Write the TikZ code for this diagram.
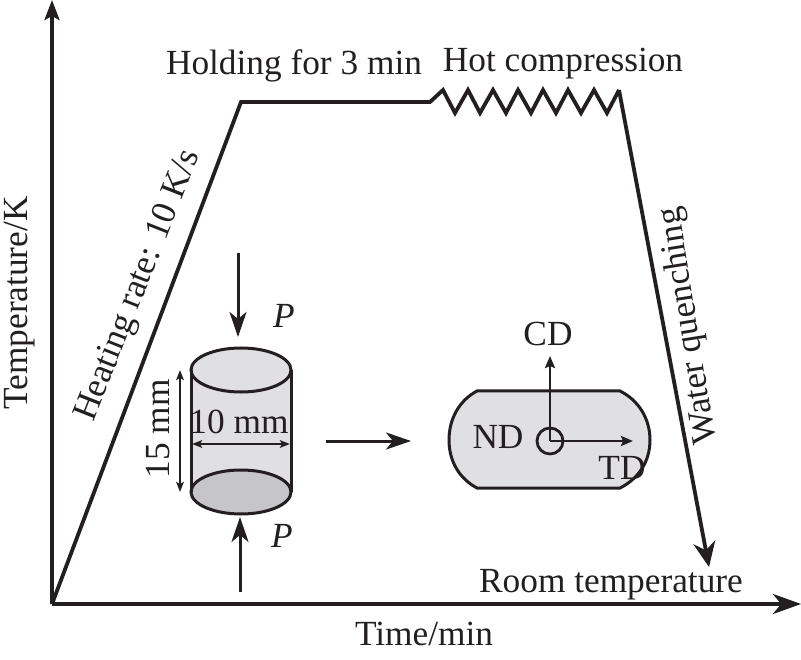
\documentclass[tikz,border=0pt]{standalone}
\usepackage{fontspec}
\setmainfont{Liberation Serif}
\usetikzlibrary{arrows.meta}
\definecolor{ink}{RGB}{35,31,32}
\definecolor{bodygray}{RGB}{224,223,225}
\definecolor{endgray}{RGB}{198,197,199}
\tikzset{
  axis/.style={draw=ink,line width=3.6pt},
  curve/.style={draw=ink,line width=3.8pt,line join=miter},
  outline/.style={draw=ink,line width=3pt},
  force/.style={draw=ink,line width=3pt,-{Stealth[length=25pt,width=17pt,inset=7pt]}},
  dir/.style={draw=ink,line width=2.6pt,-{Stealth[length=12pt,width=10pt,inset=2pt]}},
  dim/.style={draw=ink,line width=2pt,{Stealth[length=10pt,width=7.5pt,inset=2pt]}-{Stealth[length=10pt,width=7.5pt,inset=2pt]}},
  lab/.style={text=ink,font=\fontsize{35.3}{37}\selectfont,inner sep=0pt,anchor=center},
}
\begin{document}
\begin{tikzpicture}[x=1pt,y=-1pt]
\useasboundingbox (0,0) rectangle (801,660);
% key points
\coordinate (O) at (52,604);
\coordinate (ytop) at (52,0);
\coordinate (xend) at (801,604);
\coordinate (rise) at (241,102);
\coordinate (hold) at (430,102);
\coordinate (zend) at (619,90);
\coordinate (room) at (709,567);
% thermal curve
\draw[curve] (O) -- (rise) -- (hold) -- (443,90) -- (455,113) -- (468,90) -- (480,113) -- (493,90) -- (506,113) -- (518,90) -- (531,113) -- (543,90) -- (556,113) -- (568,90) -- (581,113) -- (594,90) -- (607,113) -- (zend);
\draw[draw=ink,line width=3.8pt,-{Stealth[length=25pt,width=22pt,inset=8pt]}] (zend) -- (room);
\draw[axis,-{Stealth[length=20pt,width=15pt,inset=4pt]}] (O) -- (ytop);
\draw[axis,-{Stealth[length=28pt,width=20pt,inset=8pt]}] (O) -- (xend);
% cylinder
\path[fill=bodygray] (191,370) -- (191,492) arc[start angle=180,end angle=360,x radius=50,y radius=22] -- (291,370) arc[start angle=0,end angle=180,x radius=50,y radius=22] -- cycle;
\draw[outline,fill=endgray] (241,492) ellipse[x radius=50,y radius=22];
\draw[outline,fill=bodygray] (241,370) ellipse[x radius=50,y radius=22];
\draw[outline] (191,370) -- (191,492) (291,370) -- (291,492);
\coordinate (ptopA) at (238,253);
\coordinate (ptopB) at (238,337);
\coordinate (pbotA) at (240,592);
\coordinate (pbotB) at (240,517);
\draw[force] (ptopA) -- (ptopB);
\draw[force] (pbotA) -- (pbotB);
\coordinate (hA) at (180,370);
\coordinate (hB) at (180,492);
\draw[dim] (hA) -- (hB);
\coordinate (wA) at (192,444);
\coordinate (wB) at (290,444);
\draw[dim] (wA) -- (wB);
\coordinate (moveA) at (326,441);
\coordinate (moveB) at (411,441);
\draw[force] (moveA) -- (moveB);
% compressed sample
\draw[outline,fill=bodygray] (477,391) -- (620,391) .. controls (638,400) and (650,418) .. (650,440) .. controls (650,462) and (638,479) .. (620,488) -- (477,488) .. controls (460,479) and (449,462) .. (449,440) .. controls (449,418) and (460,400) .. (477,391) -- cycle;
\node[circle,draw=ink,line width=2.8pt,minimum size=26pt,inner sep=0pt] (nd) at (550,441) {};
\draw[dir] (nd.center) -- (550,356) coordinate (cdtip);
\draw[dir] (nd.center) -- (633,441) coordinate (tdtip);
% labels
\node[lab] (l1) at (294,66) {Holding for 3 min};
\node[lab] (l2) at (563,64) {Hot compression};
\node[lab,rotate=90] (l3) at (20,303) {Temperature/K};
\node[lab,rotate=68.5] (l4) at (139,286) {Heating rate: 10 K/s};
\node[lab,rotate=99] (l5) at (689,326) {Water quenching};
\node[lab] (l6) at (611,585) {Room temperature};
\node[lab] (l7) at (424,634) {Time/min};
\node[lab] (l8) at (284,316) {\itshape P};
\node[lab] (l9) at (282,536) {\itshape P};
\node[lab,rotate=90] (l10) at (158,429) {15 mm};
\node[lab] (l11) at (239,422) {10 mm};
\node[lab] (l12) at (548,334) {CD};
\node[lab] (l13) at (498,437) {ND};
\node[lab] (l14) at (622,468) {TD};
\end{tikzpicture}
\end{document}
